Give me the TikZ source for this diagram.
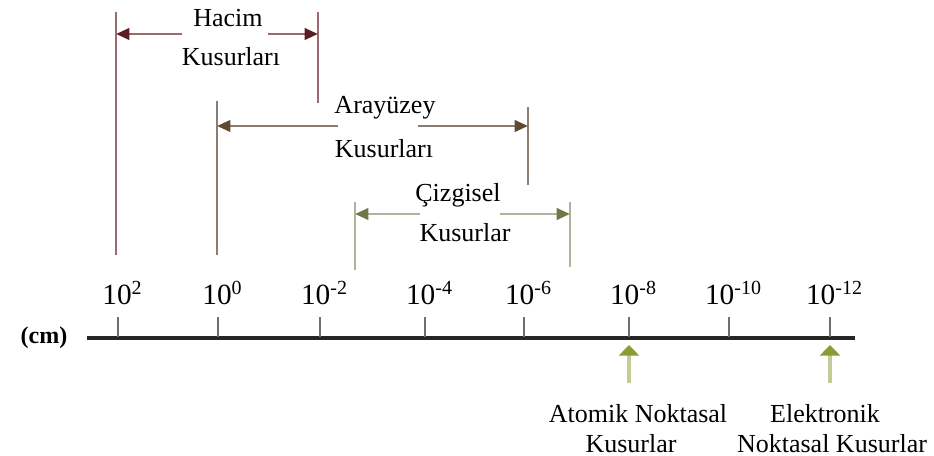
\documentclass[tikz,border=0pt]{standalone}
\usepackage{fontspec}
\setmainfont{Liberation Serif}
\usetikzlibrary{arrows.meta, positioning}
\definecolor{hacimc}{HTML}{9A6A6E}
\definecolor{hacimtip}{HTML}{5B1E24}
\definecolor{arayc}{HTML}{8A7E74}
\definecolor{araytip}{HTML}{5C4B30}
\definecolor{cizc}{HTML}{B3B39C}
\definecolor{ciztip}{HTML}{6F7845}
\definecolor{noktac}{HTML}{C5CB96}
\definecolor{noktatip}{HTML}{8C9B32}
\definecolor{tickgray}{HTML}{6E6E6E}
\newcommand{\expo}[1]{\raisebox{7pt}{\fontsize{15}{15}\selectfont #1}}

\begin{document}
\begin{tikzpicture}[
    x=0.75pt, y=-0.75pt,
    kbar/.style={line width=2.2pt},
    lbl/.style={font=\fontsize{19.5}{23}\selectfont, anchor=base, inner sep=0pt},
    explbl/.style={font=\fontsize{22}{25}\selectfont, anchor=base, inner sep=0pt},
    spanarrow/.style={line width=2.2pt, -{Triangle[length=10pt, width=8.5pt, color=#1]}},
    pointer/.style={line width=2.4pt, draw=noktac, -{Triangle[length=8pt, width=15pt, color=noktatip]}},
]
    \useasboundingbox (0,0) rectangle (934,456);

    % Scale axis
    \coordinate (axl) at (87,338);
    \coordinate (axr) at (855,338);
    \draw[line width=3pt, black!85] (axl) -- (axr);
    \node[font=\fontsize{18}{22}\selectfont\bfseries, inner sep=0pt] (unit) at (44,338) {(cm)};
    \foreach \x/\e [count=\i] in {118/2, 218/0, 320/-2, 425/-4, 524/-6, 629/-8, 729/-10, 830/-12} {
        \coordinate (tick\i) at (\x,337);
        \draw[line width=1.4pt, tickgray] (tick\i) -- ++(0,-20);
        \node[explbl] (exp\i) at (\x+4,304) {10\expo{\e}};
    }

    % Hacim
    \coordinate (hacLt) at (116,12);
    \coordinate (hacLb) at (116,255);
    \coordinate (hacRt) at (318,12);
    \coordinate (hacRb) at (318,103);
    \draw[kbar, hacimc] (hacLt) -- (hacLb);
    \draw[kbar, hacimc] (hacRt) -- (hacRb);
    \node[lbl] (hacim1) at (228,27) {Hacim};
    \node[lbl] (hacim2) at (231,66) {Kusurları};
    \coordinate (hacAl) at (182,34);
    \coordinate (hacAr) at (268,34);
    \draw[spanarrow=hacimtip, hacimc] (hacAl) -- (hacLt |- hacAl);
    \draw[spanarrow=hacimtip, hacimc] (hacAr) -- (hacRt |- hacAr);

    % Arayuzey
    \coordinate (arLt) at (217,101);
    \coordinate (arLb) at (217,255);
    \coordinate (arRt) at (528,107);
    \coordinate (arRb) at (528,185);
    \draw[kbar, arayc] (arLt) -- (arLb);
    \draw[kbar, arayc] (arRt) -- (arRb);
    \node[lbl] (aray1) at (385,114) {Arayüzey};
    \node[lbl] (aray2) at (384,157) {Kusurları};
    \coordinate (arAl) at (338,126);
    \coordinate (arAr) at (418,126);
    \draw[spanarrow=araytip, arayc] (arAl) -- (arLt |- arAl);
    \draw[spanarrow=araytip, arayc] (arAr) -- (arRt |- arAr);

    % Cizgisel
    \coordinate (czLt) at (355,202);
    \coordinate (czLb) at (355,270);
    \coordinate (czRt) at (570,202);
    \coordinate (czRb) at (570,267);
    \draw[kbar, cizc] (czLt) -- (czLb);
    \draw[kbar, cizc] (czRt) -- (czRb);
    \node[lbl] (ciz1) at (458,201) {Çizgisel};
    \node[lbl] (ciz2) at (465,241) {Kusurlar};
    \coordinate (czAl) at (420,214);
    \coordinate (czAr) at (500,214);
    \draw[spanarrow=ciztip, cizc] (czAl) -- (czLt |- czAl);
    \draw[spanarrow=ciztip, cizc] (czAr) -- (czRt |- czAr);

    % Point defects
    \coordinate (atomB) at (629,383);
    \coordinate (elekB) at (830,383);
    \draw[pointer] (atomB) -- (atomB |- 0,345);
    \draw[pointer] (elekB) -- (elekB |- 0,345);
    \node[lbl] (atom1) at (638,422) {Atomik Noktasal};
    \node[lbl] (atom2) at (631,452) {Kusurlar};
    \node[lbl] (elek1) at (825,422) {Elektronik};
    \node[lbl] (elek2) at (832,452) {Noktasal Kusurlar};
\end{tikzpicture}
\end{document}
